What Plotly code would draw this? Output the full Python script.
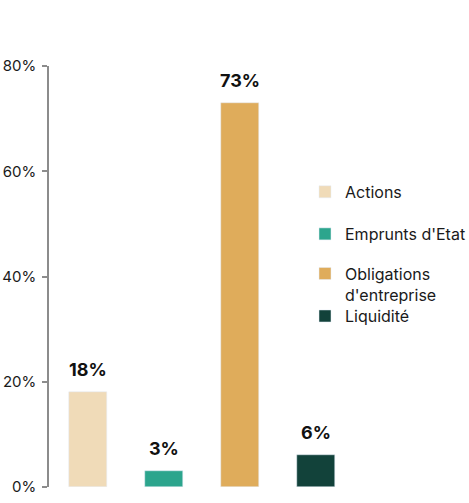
import plotly.graph_objects as go

categories = ["Actions", "Emprunts d'Etat", "Obligations<br>d'entreprise", "Liquidité"]
values = [18, 3, 73, 6]
value_labels = ["18%", "3%", "73%", "6%"]
colors = ["#F0DBB8", "#2CA58D", "#DFAC5B", "#12423A"]
y_ticks = [0, 20, 40, 60, 80]
y_tick_labels = ["0%", "20%", "40%", "60%", "80%"]

FONT = "Inter"

# one legend per series so each entry can sit at its own height
legend_ids = ["legend", "legend2", "legend3", "legend4"]
legend_y = [0.701, 0.601, 0.482, 0.406]

fig = go.Figure()
for i, (name, v, c) in enumerate(zip(categories, values, colors)):
    fig.add_trace(go.Bar(
        x=[i], y=[v], name=name, marker_color=c, width=0.5,
        legend=legend_ids[i], hoverinfo="skip",
    ))
    fig.add_annotation(
        x=i, y=v, text=f"<b>{value_labels[i]}</b>", showarrow=False,
        yanchor="bottom", yshift=10,
        font=dict(family=FONT, size=18, color="#111111"),
    )

legend_x = (305 - 49) / 305
layout_legends = {}
for lid, ly in zip(legend_ids, legend_y):
    layout_legends[lid] = dict(
        x=legend_x, y=ly, xanchor="left", yanchor="middle", valign="top",
        bgcolor="rgba(0,0,0,0)", font=dict(family=FONT, size=16, color="#1a1a1a"),
    )

fig.update_layout(
    width=469, height=503,
    margin=dict(l=49, r=115, t=66, b=16, autoexpand=False),
    plot_bgcolor="white", paper_bgcolor="white",
    font=dict(family=FONT, size=15, color="#1a1a1a"),
    showlegend=True,
    bargap=0,
    **layout_legends,
)
fig.update_xaxes(
    range=[-0.513, 3.5], showticklabels=False, showgrid=False,
    zeroline=False, showline=False, ticks="", automargin=False,
)
fig.update_yaxes(
    range=[0, 80], tickvals=y_ticks, ticktext=y_tick_labels,
    showgrid=False, zeroline=False, showline=True, linecolor="#8c8c8c",
    linewidth=1.5, ticks="outside", ticklen=5, tickcolor="#8c8c8c",
    tickwidth=1.5, ticklabelstandoff=3, automargin=False,
    tickfont=dict(family=FONT, size=15, color="#1a1a1a"),
)

fig.write_html("out.html")
